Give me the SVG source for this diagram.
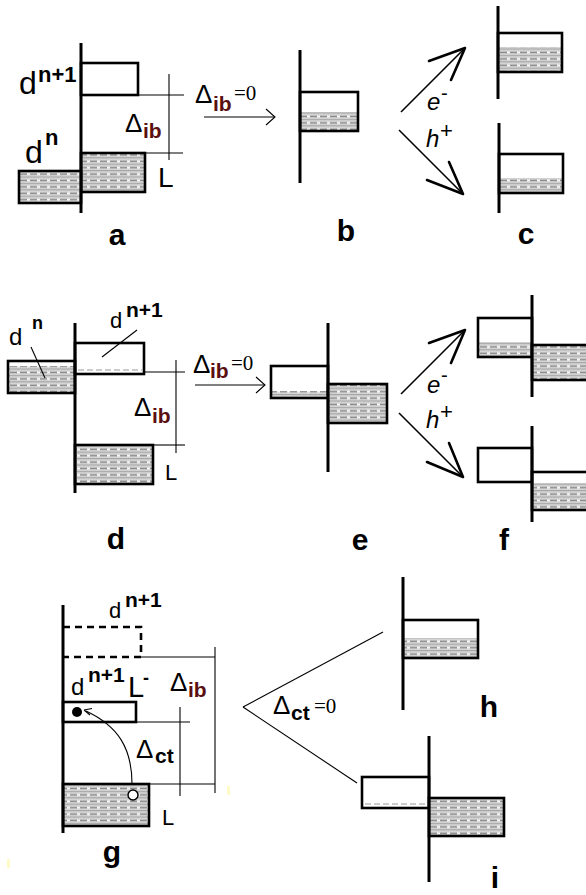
<svg xmlns="http://www.w3.org/2000/svg" width="586" height="895" viewBox="0 0 586 895">
<style>
text{font-family:"Liberation Sans",Arial,sans-serif;fill:#000}
.lbl{font-weight:bold;font-size:30px;text-anchor:middle}
.sup{font-weight:bold}
.sub{font-weight:bold;font-size:21px;fill:#5a1010}
.delta{font-size:26px}
.eq{font-family:"Liberation Serif","Times New Roman",serif;font-size:21px}
.ax{stroke:#000;stroke-width:3;fill:none}
.bx{stroke:#000;stroke-width:2.6;fill:none}
.th{stroke:#000;stroke-width:1.1;fill:none}
.hf{fill:url(#hatch)}
.arr{stroke:#000;stroke-width:1.6;fill:none}
.ah{stroke:#000;stroke-width:2.6;fill:none;stroke-linecap:round}
.dl{stroke:#999;stroke-width:1.2;stroke-dasharray:6 3}
</style>
<defs>
<pattern id="hatch" patternUnits="userSpaceOnUse" width="10" height="6.4">
<rect width="10" height="6.4" fill="#d6d6d6"/>
<rect y="0.6" width="7" height="1.4" fill="#888888"/>
<rect x="7" y="0.6" width="3" height="1.4" fill="#fafafa"/>
<rect y="3.8" width="10" height="1" fill="#9e9e9e"/>
</pattern>
</defs>
<rect width="586" height="895" fill="#fff"/>

<g id="panel-a">
<rect class="hf" x="81" y="153" width="64" height="39"/>
<rect class="bx" x="81" y="153" width="64" height="39"/>
<rect class="hf" x="19" y="171" width="62" height="32"/>
<rect class="bx" x="19" y="171" width="62" height="32"/>
<rect class="bx" x="81" y="63" width="57" height="32"/>
<line class="ax" x1="81" y1="43" x2="81" y2="213"/>
<line class="th" x1="138" y1="95" x2="184" y2="95"/>
<line class="th" x1="145" y1="153" x2="183" y2="153"/>
<line class="th" x1="169" y1="74" x2="169" y2="160"/>
<text x="125" y="132" class="delta">Δ</text><text x="143" y="138" class="sub">ib</text>
<text x="158" y="187" font-size="28">L</text>
<text x="19" y="94" font-size="32">d</text><text x="38" y="82" class="sup" font-size="22">n+1</text>
<text x="25" y="163" font-size="32">d</text><text x="45" y="145" class="sup" font-size="22">n</text>
<text x="117" y="245" class="lbl">a</text>
</g>

<g id="panel-b">
<rect class="hf" x="300" y="112" width="58" height="19"/>
<rect class="bx" x="300" y="92" width="58" height="39"/>
<line class="ax" x1="300" y1="50" x2="300" y2="183"/>
<text x="346" y="241" class="lbl">b</text>
</g>

<g id="panel-c">
<rect class="hf" x="498" y="47" width="64" height="25"/>
<rect class="bx" x="498" y="33" width="64" height="39"/>
<line class="ax" x1="498" y1="6" x2="498" y2="99"/>
<rect class="hf" x="499" y="178" width="64" height="15"/>
<rect class="bx" x="499" y="154" width="64" height="39"/>
<line class="ax" x1="499" y1="123" x2="499" y2="213"/>
<text x="526" y="244" class="lbl">c</text>
</g>

<g id="panel-d">
<rect class="hf" x="8" y="366" width="67" height="27"/>
<rect class="bx" x="8" y="361" width="67" height="32"/>
<line class="dl" x1="78" y1="370" x2="142" y2="370"/>
<rect class="bx" x="75" y="343" width="69" height="31"/>
<rect class="hf" x="75" y="445" width="78" height="39"/>
<rect class="bx" x="75" y="445" width="78" height="39"/>
<line class="ax" x1="75" y1="323" x2="75" y2="493"/>
<line class="th" x1="144" y1="372" x2="185" y2="372"/>
<line class="th" x1="153" y1="445" x2="185" y2="445"/>
<line class="th" x1="176" y1="360" x2="176" y2="453"/>
<text x="134" y="416" class="delta">Δ</text><text x="152" y="423" class="sub">ib</text>
<text x="165" y="480" font-size="22">L</text>
<text x="9" y="345" font-size="24">d</text><text x="32" y="329" class="sup" font-size="18">n</text>
<line class="th" x1="31" y1="347" x2="45" y2="378"/>
<text x="110" y="328" font-size="22">d</text><text x="126" y="317" class="sup" font-size="21">n+1</text>
<line class="th" x1="137" y1="330" x2="102" y2="357"/>
<text x="116" y="549" class="lbl">d</text>
</g>

<g id="panel-e">
<rect class="hf" x="271" y="391" width="57" height="7"/>
<rect class="bx" x="271" y="366" width="57" height="32"/>
<rect class="hf" x="328" y="384" width="59" height="39"/>
<rect class="bx" x="328" y="384" width="59" height="39"/>
<line class="ax" x1="328" y1="323" x2="328" y2="472"/>
<text x="360" y="550" class="lbl">e</text>
</g>

<g id="panel-f">
<rect class="hf" x="478" y="342" width="54" height="15"/>
<rect class="bx" x="478" y="318" width="54" height="39"/>
<rect class="hf" x="532" y="345" width="60" height="35"/>
<rect class="bx" x="532" y="345" width="60" height="35"/>
<line class="ax" x1="532" y1="295" x2="532" y2="397"/>
<rect class="bx" x="478" y="448" width="54" height="34"/>
<rect class="hf" x="532" y="483" width="60" height="27"/>
<rect class="bx" x="532" y="472" width="60" height="38"/>
<line class="ax" x1="532" y1="426" x2="532" y2="522"/>
<text x="504" y="550" class="lbl">f</text>
</g>

<g id="panel-g">
<path d="M63,627 H141 V657 H63" stroke="#000" stroke-width="2.6" fill="none" stroke-dasharray="7 5"/>
<rect class="bx" x="63" y="702" width="73" height="20"/>
<rect class="hf" x="63" y="784" width="86" height="42"/>
<rect class="bx" x="63" y="784" width="86" height="42"/>
<line class="ax" x1="63" y1="605" x2="63" y2="833"/>
<line class="th" x1="141" y1="657" x2="215" y2="657"/>
<line class="th" x1="215" y1="647" x2="215" y2="793"/>
<line class="th" x1="136" y1="722" x2="190" y2="722"/>
<line class="th" x1="180" y1="707" x2="180" y2="796"/>
<line class="th" x1="149" y1="784" x2="215" y2="784"/>
<circle cx="77" cy="712" r="5" fill="#000"/>
<circle cx="133" cy="795" r="5" fill="#fff" stroke="#000" stroke-width="1.5"/>
<path d="M132,784 C132,748 118,726 86,711" class="th"/>
<path d="M84,710 L92,708.5 M84,710 L90,715" class="th" stroke-width="1.4"/>
<text x="109" y="618" font-size="22">d</text><text x="125" y="607" class="sup" font-size="21">n+1</text>
<text x="71" y="695" font-size="24">d</text><text x="88" y="682" class="sup" font-size="21">n+1</text>
<text x="128" y="697" font-size="29">L</text><text x="143" y="684" class="sup" font-size="18">-</text>
<text x="170" y="691" class="delta">Δ</text><text x="188" y="697" class="sub">ib</text>
<text x="136" y="758" class="delta">Δ</text><text x="155" y="763" class="sup" font-size="21">ct</text>
<text x="162" y="825" font-size="22">L</text>
<text x="112" y="862" class="lbl">g</text>
<rect x="227" y="786" width="3" height="9" fill="#fffbc8"/>
<rect x="7" y="859" width="3" height="9" fill="#fffbc8"/>
</g>

<g id="panel-h">
<rect class="hf" x="403" y="638" width="75" height="20"/>
<rect class="bx" x="403" y="620" width="75" height="38"/>
<line class="ax" x1="403" y1="577" x2="403" y2="710"/>
<text x="489" y="717" class="lbl" font-size="24">h</text>
</g>

<g id="panel-i">
<line class="dl" x1="365" y1="804" x2="427" y2="804"/>
<rect class="bx" x="362" y="777" width="67" height="31"/>
<rect class="hf" x="429" y="798" width="75" height="38"/>
<rect class="bx" x="429" y="798" width="75" height="38"/>
<line class="ax" x1="429" y1="736" x2="429" y2="882"/>
<text x="495" y="888" class="lbl" font-size="24">i</text>
</g>

<g id="connectors">
<line class="th" x1="204" y1="117" x2="275" y2="117"/>
<polyline class="th" points="266,109 275,117 266,125"/>
<text x="195" y="103" class="delta">Δ</text><text x="213" y="111" class="sub">ib</text><text x="234" y="100" class="eq">=0</text>

<line class="arr" x1="401" y1="112" x2="465" y2="48"/>
<path class="ah" d="M465,48 L429,61 M465,48 L451,80"/>
<line class="arr" x1="399" y1="130" x2="463" y2="194"/>
<path class="ah" d="M463,194 L427,180 M463,194 L449,162"/>
<text x="427" y="110" font-size="24" font-style="italic">e</text><text x="441" y="100" font-size="20">-</text>
<text x="426" y="147" font-size="24" font-style="italic">h</text><text x="440" y="138" font-size="22">+</text>

<line class="th" x1="195" y1="385" x2="265" y2="385"/>
<polyline class="th" points="256,377 265,385 256,393"/>
<text x="193" y="373" class="delta">Δ</text><text x="210" y="378" class="sub">ib</text><text x="231" y="370" class="eq">=0</text>

<line class="arr" x1="401" y1="394" x2="465" y2="330"/>
<path class="ah" d="M465,330 L429,343 M465,330 L451,363"/>
<line class="arr" x1="399" y1="413" x2="463" y2="477"/>
<path class="ah" d="M463,477 L427,462 M463,477 L449,443"/>
<text x="427" y="393" font-size="24" font-style="italic">e</text><text x="441" y="382" font-size="20">-</text>
<text x="426" y="428" font-size="24" font-style="italic">h</text><text x="440" y="419" font-size="22">+</text>

<line class="th" x1="243" y1="707" x2="383" y2="632"/>
<line class="th" x1="243" y1="707" x2="357" y2="783"/>
<text x="273" y="714" class="delta">Δ</text><text x="291" y="720" class="sup" font-size="21">ct</text><text x="314" y="713" class="eq">=0</text>
</g>
</svg>
